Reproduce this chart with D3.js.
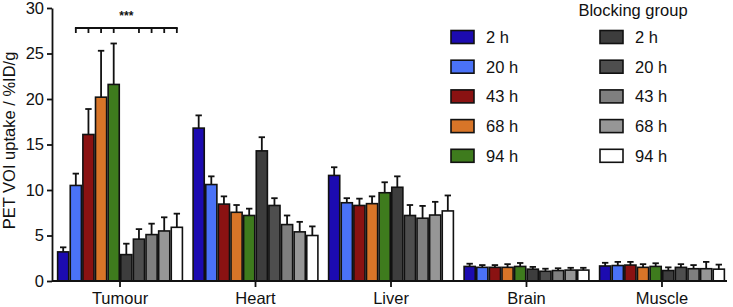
<!DOCTYPE html>
<html>
<head>
<meta charset="utf-8">
<script src="https://cdn.jsdelivr.net/npm/d3@7"></script>
<style>
  body { margin: 0; background: #fff; }
  svg text { font-family: "Liberation Sans", Arial, Helvetica, sans-serif; fill: #111; }
</style>
</head>
<body>
<div id="chart"></div>
<script>
// organs on the x axis
const organs = ["Tumour", "Heart", "Liver", "Brain", "Muscle"];
// time points, first the normal group, then the blocking group
const times = ["2 h", "20 h", "43 h", "68 h", "94 h"];
const seriesKeys = ["n2", "n20", "n43", "n68", "n94", "b2", "b20", "b43", "b68", "b94"];

// mean uptake per organ, same order as organs
const n2  = [3.2, 16.8, 11.6, 1.6, 1.65];
const n20 = [10.5, 10.6, 8.6, 1.5, 1.7];
const n43 = [16.1, 8.45, 8.3, 1.5, 1.75];
const n68 = [20.2, 7.55, 8.5, 1.5, 1.5];
const n94 = [21.6, 7.2, 9.7, 1.6, 1.6];
const b2  = [2.9, 14.3, 10.3, 1.3, 1.15];
const b20 = [4.6, 8.3, 7.2, 1.07, 1.5];
const b43 = [5.1, 6.2, 6.9, 1.15, 1.35];
const b68 = [5.5, 5.4, 7.25, 1.2, 1.35];
const b94 = [5.9, 5.0, 7.7, 1.2, 1.3];

// top of the error bar (mean + SD)
const n2Err  = [3.7, 18.2, 12.5, 1.9, 2.0];
const n20Err = [11.8, 11.5, 9.1, 1.75, 2.1];
const n43Err = [18.9, 9.3, 9.05, 1.75, 2.1];
const n68Err = [25.3, 8.35, 9.3, 1.85, 1.85];
const n94Err = [26.1, 7.95, 10.85, 1.98, 1.95];
const b2Err  = [4.1, 15.8, 11.5, 1.55, 1.5];
const b20Err = [5.7, 9.1, 8.35, 1.35, 1.85];
const b43Err = [6.3, 7.2, 8.25, 1.4, 1.75];
const b68Err = [7.0, 6.5, 8.7, 1.45, 2.1];
const b94Err = [7.4, 6.0, 9.4, 1.45, 1.8];

const yTicks = [0, 5, 10, 15, 20, 25, 30];

const colors = ["#1c0bb0", "#4a72f7", "#8a1212", "#d87528", "#3e7b1d",
                "#3d3d3d", "#4e4e4e", "#7f7f7f", "#969696", "#ffffff"];

const means = [n2, n20, n43, n68, n94, b2, b20, b43, b68, b94];
const errs = [n2Err, n20Err, n43Err, n68Err, n94Err, b2Err, b20Err, b43Err, b68Err, b94Err];

const width = 733, height = 307;
const margin = {top: 8, right: 3, bottom: 26, left: 52};
const fs = 16.5;

const svg = d3.select("#chart").append("svg")
    .attr("width", width)
    .attr("height", height);

const x = d3.scaleBand()
    .domain(organs)
    .range([margin.left, width - margin.right])
    .paddingInner(0.068)
    .paddingOuter(0.036);

const xSub = d3.scaleBand()
    .domain(seriesKeys)
    .range([0, x.bandwidth()])
    .padding(0);

const y = d3.scaleLinear()
    .domain([0, 30])
    .range([height - margin.bottom, margin.top]);

// table built from the arrays
const table = organs.map((o, i) => ({
    organ: o,
    values: seriesKeys.map((k, j) => ({key: k, idx: j, value: means[j][i], err: errs[j][i]}))
}));

// bars
const groups = svg.append("g")
    .selectAll("g")
    .data(table)
    .join("g")
    .attr("transform", d => `translate(${x(d.organ)},0)`);

// error bars (upper only)
groups.selectAll(".err")
    .data(d => d.values)
    .join("g")
    .attr("class", "err")
    .each(function(d) {
        const g = d3.select(this);
        const cx = xSub(d.key) + xSub.bandwidth() / 2;
        g.append("line")
            .attr("x1", cx).attr("x2", cx)
            .attr("y1", y(d.value)).attr("y2", y(d.err))
            .attr("stroke", "#111").attr("stroke-width", 1.8);
        g.append("line")
            .attr("x1", cx - 3.2).attr("x2", cx + 3.2)
            .attr("y1", y(d.err)).attr("y2", y(d.err))
            .attr("stroke", "#111").attr("stroke-width", 1.8);
    });

groups.selectAll("rect")
    .data(d => d.values)
    .join("rect")
    .attr("x", d => xSub(d.key) + 0.75)
    .attr("y", d => y(d.value))
    .attr("width", xSub.bandwidth() - 1.5)
    .attr("height", d => y(0) - y(d.value))
    .attr("fill", d => colors[d.idx])
    .attr("stroke", "#111")
    .attr("stroke-width", 1.6);

// axes
const yAxis = svg.append("g")
    .attr("transform", `translate(${margin.left},0)`)
    .call(d3.axisLeft(y).tickValues(yTicks).tickSize(5).tickSizeOuter(0).tickPadding(3));

const xAxis = svg.append("g")
    .attr("transform", `translate(0,${y(0)})`)
    .call(d3.axisBottom(x).tickSize(6).tickSizeOuter(0).tickPadding(5));

xAxis.select(".domain").attr("d", `M${margin.left},0H${width - 6}`);

[yAxis, xAxis].forEach(a => {
    a.select(".domain").attr("stroke", "#111").attr("stroke-width", 1.8);
    a.selectAll(".tick line").attr("stroke", "#111").attr("stroke-width", 1.8);
    a.selectAll("text").attr("font-size", fs).attr("fill", "#111")
        .style("font-family", "'Liberation Sans', Arial, sans-serif");
});

svg.append("text")
    .attr("transform", `translate(15,${(y(0) + y(30)) / 2 - 4}) rotate(-90)`)
    .attr("text-anchor", "middle")
    .attr("font-size", fs)
    .text("PET VOI uptake / %ID/g");

// significance bracket over the tumour group
const sigBars = ["n20", "n43", "n68", "n94", "b20", "b43", "b68", "b94"];
const bx = k => x("Tumour") + xSub(k) + xSub.bandwidth() / 2;
const bracketY = y(27.8);
const bracket = svg.append("g").attr("stroke", "#111").attr("stroke-width", 1.8);
bracket.append("line")
    .attr("x1", bx("n20") - 0.9).attr("x2", bx("b94") + 0.9)
    .attr("y1", bracketY).attr("y2", bracketY);
bracket.selectAll(".tk")
    .data(sigBars)
    .join("line")
    .attr("x1", d => bx(d)).attr("x2", d => bx(d))
    .attr("y1", bracketY).attr("y2", bracketY + 5);
svg.append("text")
    .attr("x", (bx("n20") + bx("b94")) / 2)
    .attr("y", bracketY - 8)
    .attr("text-anchor", "middle")
    .attr("font-size", 12)
    .attr("font-weight", "bold")
    .text("***");

// legend
const legend = svg.append("g");
const rowY = i => 37 + i * 29.7;
const cols = [{x: 451, start: 0}, {x: 600, start: 5}];
cols.forEach(c => {
    times.forEach((t, i) => {
        legend.append("rect")
            .attr("x", c.x).attr("y", rowY(i) - 6.5)
            .attr("width", 23).attr("height", 13)
            .attr("fill", colors[c.start + i])
            .attr("stroke", "#111").attr("stroke-width", 1.6);
        legend.append("text")
            .attr("x", c.x + 35).attr("y", rowY(i) + 6)
            .attr("font-size", fs)
            .text(t);
    });
});
legend.append("text")
    .attr("x", 633).attr("y", 16)
    .attr("text-anchor", "middle")
    .attr("font-size", fs)
    .text("Blocking group");
</script>
</body>
</html>
